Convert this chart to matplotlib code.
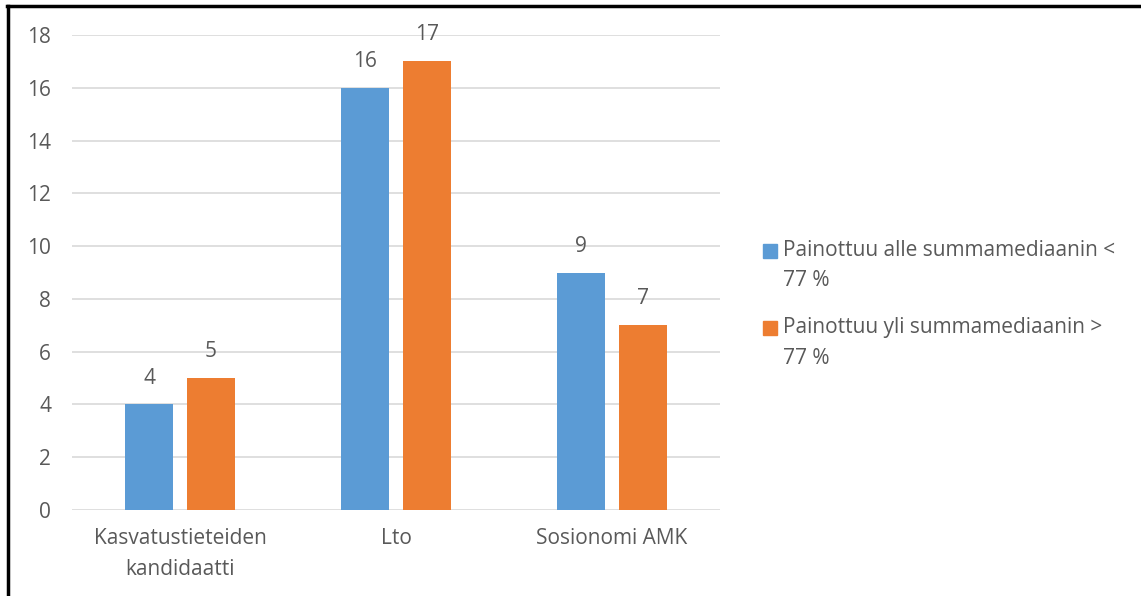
import numpy as np
import matplotlib.pyplot as plt
from matplotlib.lines import Line2D
from matplotlib.patches import Rectangle

categories = ["Kasvatustieteiden\nkandidaatti", "Lto", "Sosionomi AMK"]
series_names = [["Painottuu alle summamediaanin <", "77 %"],
                ["Painottuu yli summamediaanin >", "77 %"]]
below = [4, 16, 9]
above = [5, 17, 7]
yticks = [0, 2, 4, 6, 8, 10, 12, 14, 16, 18]

blue = "#5B9BD5"
orange = "#ED7D31"
txt = "#595959"
fs = 15

plt.rcParams['font.family'] = ['Open Sans', 'DejaVu Sans']

W, H = 1141, 596
fig = plt.figure(figsize=(W / 100, H / 100), dpi=100)
ax = fig.add_axes([72/W, 1 - 510/H, 648/W, 475/H])

x = np.arange(len(categories))
w = 0.222
off = 0.1435
b1 = ax.bar(x - off, below, w, color=blue, zorder=3)
b2 = ax.bar(x + off, above, w, color=orange, zorder=3)

for bars, vals in ((b1, below), (b2, above)):
    for r, v in zip(bars, vals):
        ax.annotate(str(v), (r.get_x() + r.get_width() / 2, v), xytext=(0, 19),
                    textcoords="offset points", ha="center", va="center",
                    fontsize=fs, color=txt)

ax.set_xlim(-0.5, 2.5)
ax.set_ylim(0, 18)
ax.set_yticks(yticks)
ax.set_xticks(x)
ax.set_xticklabels(categories, fontsize=fs, color=txt, linespacing=1.6)
ax.tick_params(axis='y', labelsize=fs, labelcolor=txt, length=0, pad=15)
ax.tick_params(axis='x', length=0, pad=13)
ax.grid(axis='y', color="#D9D9D9", linewidth=1.2, zorder=0)
for s in ax.spines.values():
    s.set_visible(False)

# legend drawn by hand so the square sits at the first text line
for i, (name, col) in enumerate(zip(series_names, [blue, orange])):
    yc = 251 + i * 77
    fig.add_artist(Rectangle((763/W, 1 - (yc + 7)/H), 14/W, 14/H,
                             transform=fig.transFigure, color=col))
    for j, line in enumerate(name):
        fig.text(783/W, 1 - (yc + j * 30)/H, line, fontsize=fs, color=txt,
                 ha="left", va="center")

# frame lines on top and left edge
fig.add_artist(Line2D([7/W, 1], [1 - 6/H, 1 - 6/H], color="black", lw=2.5))
fig.add_artist(Line2D([8/W, 8/W], [0, 1 - 6/H], color="black", lw=2.5))

fig.savefig("out.png", dpi=100)
